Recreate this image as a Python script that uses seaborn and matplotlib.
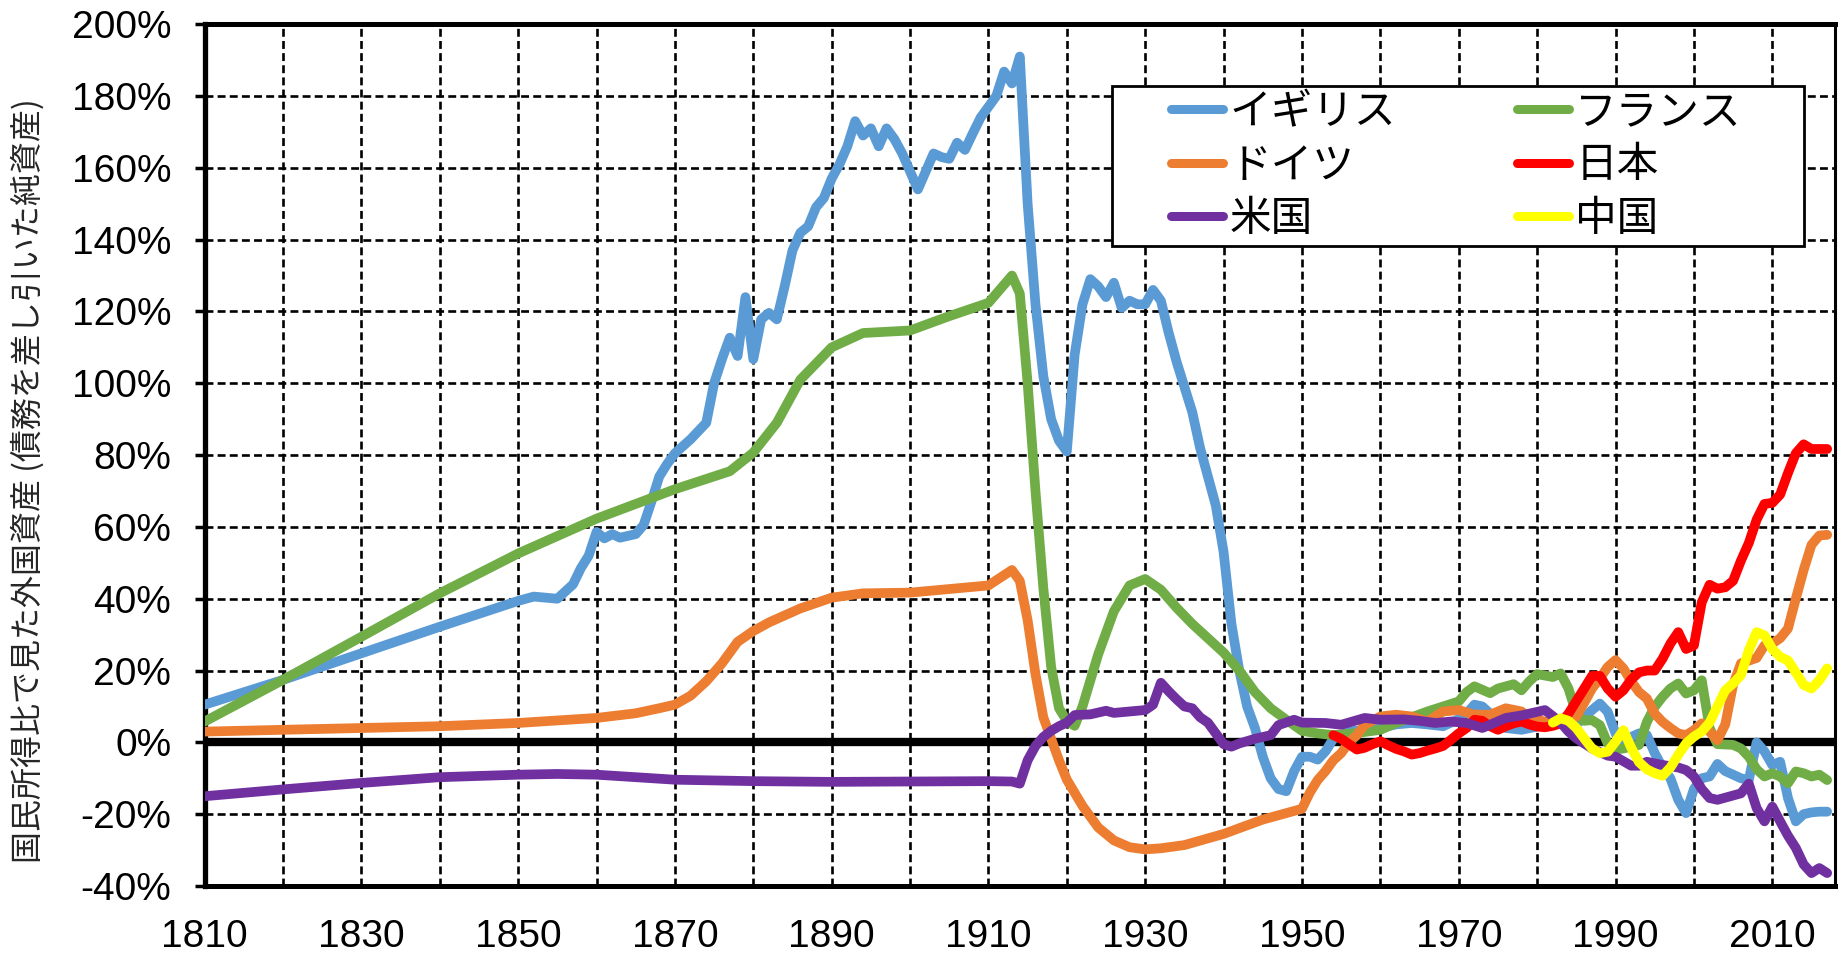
import matplotlib
matplotlib.use("Agg")
import matplotlib.pyplot as plt
import pandas as pd
import seaborn as sns
from matplotlib.patches import Rectangle
from matplotlib.ticker import MultipleLocator, FuncFormatter

# ---------------- data ----------------
countries = ["イギリス", "フランス", "ドイツ", "日本", "米国", "中国"]
colors = ["#5B9BD5", "#70AD47", "#ED7D31", "#FF0000", "#7030A0", "#FFFF00"]

uk_years = [1810, 1820, 1830, 1840, 1850, 1852, 1855, 1857, 1858, 1859,
            1860, 1861, 1862, 1863, 1865, 1866, 1867, 1868, 1869, 1870,
            1872, 1874, 1875, 1876, 1877, 1878, 1879, 1880, 1881, 1882,
            1883, 1884, 1885, 1886, 1887, 1888, 1889, 1890, 1891, 1892,
            1893, 1894, 1895, 1896, 1897, 1898, 1899, 1900, 1901, 1902,
            1903, 1904, 1905, 1906, 1907, 1908, 1909, 1910, 1911, 1912,
            1913, 1914, 1915, 1916, 1917, 1918, 1919, 1920, 1921, 1922,
            1923, 1924, 1925, 1926, 1927, 1928, 1929, 1930, 1931, 1932,
            1933, 1934, 1935, 1936, 1937, 1938, 1939, 1940, 1941, 1942,
            1943, 1944, 1945, 1946, 1947, 1948, 1949, 1950, 1951, 1952,
            1953, 1954, 1956, 1958, 1960, 1962, 1964, 1966, 1968, 1970,
            1971, 1972, 1973, 1974, 1976, 1978, 1980, 1982, 1984, 1985,
            1986, 1987, 1988, 1989, 1990, 1991, 1992, 1993, 1994, 1995,
            1996, 1997, 1998, 1999, 2000, 2001, 2002, 2003, 2004, 2005,
            2006, 2007, 2008, 2009, 2010, 2011, 2012, 2013, 2014, 2015,
            2016, 2017]
uk_values = [10.5, 17.4, 24.8, 32.2, 39.4, 40.6, 40.0, 44.0, 48.5, 52.0,
             58.6, 56.8, 58.0, 57.0, 58.0, 60.5, 67.0, 74.0, 77.5, 80.5,
             84.4, 89.0, 100.0, 106.7, 112.7, 107.6, 124.0, 106.7, 117.8, 119.6,
             117.8, 127.0, 137.0, 141.9, 143.7, 149.0, 151.6, 157.0, 161.0, 166.0,
             173.0, 169.0, 171.0, 166.0, 171.0, 168.0, 164.0, 159.0, 154.0, 159.0,
             164.0, 163.0, 162.5, 167.0, 165.0, 169.6, 174.0, 177.0, 180.0, 186.8,
             183.5, 191.0, 150.0, 122.0, 102.0, 90.0, 84.0, 81.0, 108.0, 122.0,
             129.0, 127.0, 124.0, 128.0, 121.0, 123.0, 122.0, 122.0, 126.0, 123.0,
             114.0, 106.0, 99.0, 92.0, 82.0, 74.0, 66.0, 53.0, 33.0, 20.0,
             10.0, 4.0, -4.0, -10.0, -13.0, -13.6, -8.0, -4.0, -4.0, -4.8,
             -2.5, 1.0, 3.0, 3.5, 4.0, 5.0, 5.4, 5.0, 4.5, 6.5,
             8.0, 10.5, 10.0, 8.0, 4.0, 3.5, 4.4, 5.8, 6.0, 5.0,
             7.0, 9.0, 10.8, 8.5, 2.5, -0.7, 1.5, 2.5, 2.0, -3.0,
             -7.0, -10.0, -16.0, -19.7, -13.0, -10.0, -9.5, -6.0, -8.0, -9.0,
             -10.0, -10.5, 0.0, -2.5, -6.3, -5.4, -15.5, -22.0, -20.0, -19.5,
             -19.3, -19.3]

fr_years = [1810, 1820, 1830, 1840, 1850, 1860, 1870, 1877, 1880, 1883,
            1886, 1890, 1894, 1900, 1905, 1910, 1913, 1914, 1915, 1916,
            1917, 1918, 1919, 1920, 1921, 1922, 1924, 1926, 1928, 1930,
            1932, 1934, 1936, 1938, 1940, 1942, 1944, 1946, 1948, 1950,
            1952, 1954, 1957, 1960, 1962, 1966, 1970, 1971, 1972, 1974,
            1975, 1977, 1978, 1979, 1980, 1982, 1983, 1984, 1985, 1986,
            1987, 1988, 1989, 1990, 1991, 1993, 1994, 1995, 1996, 1997,
            1998, 1999, 2000, 2001, 2002, 2003, 2005, 2006, 2007, 2008,
            2009, 2010, 2011, 2012, 2013, 2014, 2015, 2016, 2017]
fr_values = [5.8, 17.4, 29.4, 41.5, 52.6, 62.3, 70.5, 75.5, 80.7, 89.0,
             101.0, 110.0, 114.0, 114.7, 118.7, 122.4, 130.0, 125.0, 100.0, 70.0,
             43.0, 21.0, 9.5, 6.0, 4.6, 10.0, 24.5, 36.5, 43.7, 45.5,
             42.5, 37.5, 33.0, 29.0, 25.0, 20.0, 14.0, 9.5, 6.3, 3.2,
             2.5, 2.0, 2.6, 3.5, 5.4, 8.6, 11.4, 14.0, 15.6, 13.7,
             15.0, 16.2, 14.5, 17.0, 19.0, 18.2, 19.2, 15.0, 8.0, 6.0,
             6.2, 4.8, -0.3, -2.0, -1.7, -0.7, 5.7, 9.9, 12.7, 15.0,
             16.4, 13.6, 14.5, 17.3, 4.0, -0.5, -0.7, -1.7, -4.0, -7.5,
             -9.5, -8.6, -9.5, -11.4, -8.1, -8.6, -9.5, -9.0, -10.5]

de_years = [1810, 1820, 1830, 1840, 1850, 1860, 1865, 1868, 1870, 1872,
            1874, 1876, 1878, 1880, 1882, 1886, 1890, 1894, 1900, 1905,
            1910, 1913, 1914, 1915, 1916, 1917, 1918, 1919, 1920, 1922,
            1924, 1926, 1928, 1930, 1932, 1935, 1940, 1945, 1950, 1951,
            1952, 1953, 1954, 1955, 1956, 1957, 1958, 1960, 1962, 1964,
            1966, 1968, 1970, 1972, 1974, 1976, 1978, 1979, 1981, 1983,
            1985, 1986, 1987, 1988, 1989, 1990, 1991, 1992, 1993, 1994,
            1995, 1996, 1997, 1998, 1999, 2000, 2001, 2002, 2003, 2004,
            2005, 2006, 2008, 2009, 2010, 2011, 2012, 2013, 2014, 2015,
            2016, 2017]
de_values = [3.0, 3.5, 4.0, 4.5, 5.4, 6.8, 8.1, 9.5, 10.5, 13.0,
             17.0, 22.0, 28.0, 31.0, 33.4, 37.3, 40.3, 41.5, 41.7, 42.7,
             43.7, 48.0, 45.0, 34.0, 19.0, 7.0, 1.0, -5.0, -10.4, -17.7,
             -23.7, -27.3, -29.2, -29.8, -29.5, -28.6, -25.5, -21.5, -18.5, -14.0,
             -10.5, -8.0, -5.0, -3.0, 0.0, 2.0, 4.9, 7.2, 7.7, 7.2,
             5.8, 8.6, 9.0, 7.7, 7.7, 9.5, 8.6, 6.8, 5.8, 5.6,
             7.2, 11.0, 15.0, 17.8, 21.0, 22.9, 20.6, 17.0, 14.0, 12.2,
             8.0, 5.7, 4.0, 2.5, 2.0, 3.4, 5.3, 3.0, 0.6, 5.0,
             16.0, 22.0, 23.5, 27.0, 27.5, 29.0, 31.7, 40.0, 48.0, 55.0,
             57.6, 57.8]

jp_years = list(range(1954, 2018))
jp_values = [2.0, 1.0, -0.5, -2.0, -1.5, -0.5, 0.3, -0.8, -1.8, -2.5,
             -3.4, -3.0, -2.3, -1.7, -1.0, 0.7, 2.5, 4.0, 6.3, 6.0,
             4.5, 3.5, 4.5, 5.3, 5.8, 5.0, 4.4, 4.2, 4.6, 5.3,
             8.0, 11.5, 15.0, 18.5, 18.5, 15.0, 12.7, 14.5, 17.5, 19.5,
             20.0, 20.0, 23.3, 27.5, 30.7, 26.0, 27.0, 39.0, 43.9, 42.8,
             43.2, 45.0, 50.6, 55.5, 62.0, 66.4, 66.7, 69.0, 75.0, 80.5,
             83.0, 81.7, 81.7, 81.7]

us_years = [1810, 1820, 1830, 1840, 1850, 1855, 1860, 1870, 1880, 1890,
            1900, 1910, 1913, 1914, 1915, 1916, 1917, 1918, 1919, 1920,
            1921, 1923, 1925, 1926, 1928, 1930, 1931, 1932, 1933, 1934,
            1935, 1936, 1937, 1938, 1939, 1940, 1941, 1942, 1944, 1946,
            1947, 1949, 1950, 1953, 1955, 1958, 1960, 1963, 1965, 1967,
            1969, 1971, 1973, 1974, 1976, 1978, 1980, 1981, 1982, 1983,
            1984, 1985, 1987, 1989, 1990, 1992, 1993, 1994, 1996, 1998,
            1999, 2000, 2001, 2002, 2003, 2004, 2006, 2007, 2008, 2009,
            2010, 2011, 2012, 2013, 2014, 2015, 2016, 2017]
us_values = [-15.0, -13.1, -11.3, -9.7, -9.0, -8.8, -9.0, -10.4, -10.8, -11.0,
             -10.9, -10.8, -10.9, -11.5, -5.0, -1.0, 1.5, 3.2, 4.5, 5.5,
             7.6, 7.8, 8.8, 8.2, 8.6, 9.0, 10.5, 16.6, 14.2, 12.0,
             10.0, 9.5, 7.0, 5.5, 2.5, -0.5, -1.2, -0.3, 1.0, 2.0,
             4.8, 6.3, 5.5, 5.4, 4.9, 6.8, 6.3, 6.4, 6.0, 5.4,
             5.8, 5.4, 4.0, 4.9, 6.8, 7.5, 8.5, 9.0, 7.3, 5.5,
             3.0, 1.1, -1.7, -3.7, -4.0, -6.5, -6.5, -5.4, -6.3, -7.0,
             -7.7, -9.5, -13.0, -15.5, -16.0, -15.4, -14.2, -11.5, -18.3, -22.0,
             -17.9, -22.0, -26.0, -29.4, -34.0, -36.4, -35.0, -36.4]

cn_years = list(range(1982, 2018))
cn_values = [5.5, 6.7, 6.0, 4.0, 1.1, -1.7, -3.0, -2.6, 0.2, 3.4,
             -1.5, -5.5, -7.5, -8.6, -9.3, -7.0, -3.5, -0.3, 1.6, 3.0,
             5.5, 10.0, 14.5, 16.4, 18.7, 25.6, 30.7, 29.8, 26.0, 23.8,
             22.8, 19.5, 16.0, 15.0, 17.3, 20.6]

x_ticks = [1810, 1830, 1850, 1870, 1890, 1910, 1930, 1950, 1970, 1990, 2010]
y_ticks = [-40, -20, 0, 20, 40, 60, 80, 100, 120, 140, 160, 180, 200]
y_label = "国民所得比で見た外国資産 (債務を差し引いた純資産)"

series = [(countries[0], uk_years, uk_values),
          (countries[1], fr_years, fr_values),
          (countries[2], de_years, de_values),
          (countries[3], jp_years, jp_values),
          (countries[4], us_years, us_values),
          (countries[5], cn_years, cn_values)]
frames = []
for name, yrs, vals in series:
    assert len(yrs) == len(vals), name
    frames.append(pd.DataFrame({"year": yrs, "value": vals, "country": name}))
df = pd.concat(frames, ignore_index=True)

# ---------------- style ----------------
sns.set_style("white")
plt.rcParams["font.family"] = ["Liberation Sans", "Noto Sans CJK JP", "DejaVu Sans"]
plt.rcParams["text.color"] = "black"

W, H = 1838, 957
fig = plt.figure(figsize=(W / 100, H / 100), dpi=100)
ax_l, ax_r, ax_t, ax_b = 204.6, 1835.0, 24.2, 886.0
ax = fig.add_axes([ax_l / W, 1 - ax_b / H, (ax_r - ax_l) / W, (ax_b - ax_t) / H])

sns.lineplot(data=df, x="year", y="value", hue="country", hue_order=countries,
             palette=colors, estimator=None, sort=True, linewidth=7.0,
             solid_capstyle="round", solid_joinstyle="round",
             legend=False, ax=ax, zorder=3)
data_lines = list(ax.get_lines())
for ln in data_lines:
    ln.set_linewidth(7.0)
    ln.set_solid_capstyle("round")
    ln.set_solid_joinstyle("round")

ax.axhline(0, color="black", lw=6.0, zorder=2)

ax.set_xlim(1810, 2018)
ax.set_ylim(-40, 200)
ax.set_xticks(x_ticks)
ax.xaxis.set_minor_locator(MultipleLocator(10))
ax.set_yticks(y_ticks)
ax.yaxis.set_major_formatter(FuncFormatter(lambda v, p: f"{int(round(v))}%"))

grid_kw = dict(color="black", lw=1.9, linestyle=(0, (3.0, 1.6)))
ax.grid(True, which="both", axis="x", **grid_kw)
ax.grid(True, which="major", axis="y", **grid_kw)
ax.set_axisbelow(True)

ax.tick_params(axis="x", which="both", length=0, pad=24, labelsize=28, colors="black")
ax.tick_params(axis="y", which="major", length=7, width=2.5, direction="out",
               pad=17, labelsize=28, colors="black", left=True)
ax.set_xlabel("")
ax.set_ylabel(y_label, fontsize=23, family=["Noto Sans CJK JP", "DejaVu Sans"])
ax.yaxis.set_label_coords((45 - ax_l) / (ax_r - ax_l), (ax_b - 481) / (ax_b - ax_t))

for side, lw in [("left", 3.8), ("bottom", 3.6), ("top", 3.6), ("right", 2.2)]:
    ax.spines[side].set_visible(True)
    ax.spines[side].set_color("black")
    ax.spines[side].set_linewidth(lw)

# ---------------- legend ----------------
bx0, by0, bx1, by1 = 1112, 85.7, 1804, 246
frame = Rectangle((bx0 / W, 1 - by1 / H), (bx1 - bx0) / W, (by1 - by0) / H,
                  transform=fig.transFigure, facecolor="white", edgecolor="black",
                  lw=2.0, zorder=4)
fig.add_artist(frame)
order = [0, 2, 4, 1, 3, 5]
leg = fig.legend([data_lines[i] for i in order], [countries[i] for i in order],
                 loc="center", bbox_to_anchor=(1456.5 / W, 1 - 166.0 / H),
                 bbox_transform=fig.transFigure, ncol=2, frameon=False,
                 prop={"family": ["Noto Sans CJK JP", "DejaVu Sans"], "size": 30},
                 handlelength=1.25, handletextpad=0.15, columnspacing=2.9,
                 labelspacing=0.3, borderpad=0.0)
leg.set_zorder(5)
for h in leg.legend_handles:
    h.set_linewidth(6.5)
    h.set_solid_capstyle("round")

fig.savefig("out.png", dpi=100)
